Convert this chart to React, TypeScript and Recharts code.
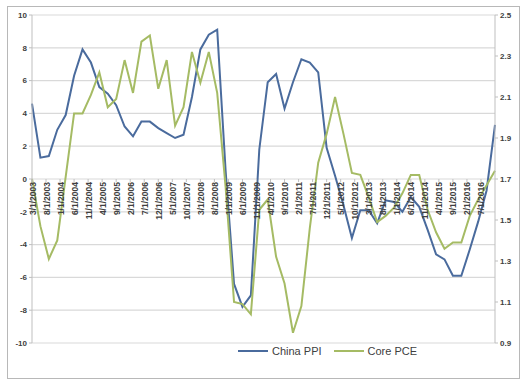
import React from "react";
import {
  LineChart,
  Line,
  XAxis,
  YAxis,
  CartesianGrid,
  ReferenceDot,
  Legend,
} from "recharts";

// Quarterly observation dates
const quarterDates = [
  "3/1/2003", "6/1/2003", "9/1/2003", "12/1/2003",
  "3/1/2004", "6/1/2004", "9/1/2004", "12/1/2004",
  "3/1/2005", "6/1/2005", "9/1/2005", "12/1/2005",
  "3/1/2006", "6/1/2006", "9/1/2006", "12/1/2006",
  "3/1/2007", "6/1/2007", "9/1/2007", "12/1/2007",
  "3/1/2008", "6/1/2008", "9/1/2008", "12/1/2008",
  "3/1/2009", "6/1/2009", "9/1/2009", "12/1/2009",
  "3/1/2010", "6/1/2010", "9/1/2010", "12/1/2010",
  "3/1/2011", "6/1/2011", "9/1/2011", "12/1/2011",
  "3/1/2012", "6/1/2012", "9/1/2012", "12/1/2012",
  "3/1/2013", "6/1/2013", "9/1/2013", "12/1/2013",
  "3/1/2014", "6/1/2014", "9/1/2014", "12/1/2014",
  "3/1/2015", "6/1/2015", "9/1/2015", "12/1/2015",
  "3/1/2016", "6/1/2016", "9/1/2016", "12/1/2016",
];

// China PPI (%, left axis)
const chinaPpi = [
  4.6, 1.3, 1.4, 3.0,
  3.9, 6.3, 7.9, 7.1,
  5.6, 5.2, 4.5, 3.2,
  2.6, 3.5, 3.5, 3.1,
  2.8, 2.5, 2.7, 5.0,
  7.9, 8.8, 9.1, 0.5,
  -6.4, -7.8, -7.1, 1.8,
  5.9, 6.4, 4.3, 5.9,
  7.3, 7.1, 6.5, 1.9,
  0.2, -1.6, -3.6, -1.9,
  -1.9, -2.7, -1.3, -1.4,
  -2.0, -1.1, -1.7, -3.1,
  -4.6, -4.9, -5.9, -5.9,
  -4.3, -2.6, -0.7, 3.3,
];

// US Core PCE (%, right axis)
const corePce = [
  1.70, 1.47, 1.31, 1.40,
  1.71, 2.02, 2.02, 2.11,
  2.22, 2.05, 2.09, 2.28,
  2.12, 2.37, 2.40, 2.14,
  2.28, 1.96, 2.05, 2.32,
  2.17, 2.32, 2.12, 1.66,
  1.10, 1.09, 1.04, 1.55,
  1.60, 1.32, 1.19, 0.95,
  1.08, 1.46, 1.78, 1.92,
  2.10, 1.92, 1.73, 1.72,
  1.61, 1.49, 1.52, 1.56,
  1.63, 1.72, 1.72, 1.55,
  1.44, 1.36, 1.39, 1.39,
  1.52, 1.60, 1.67, 1.74,
];

// Category axis labels (every 5 months)
const tickLabels = [
  "3/1/2003", "8/1/2003", "1/1/2004", "6/1/2004", "11/1/2004", "4/1/2005",
  "9/1/2005", "2/1/2006", "7/1/2006", "12/1/2006", "5/1/2007", "10/1/2007",
  "3/1/2008", "8/1/2008", "1/1/2009", "6/1/2009", "11/1/2009", "4/1/2010",
  "9/1/2010", "2/1/2011", "7/1/2011", "12/1/2011", "5/1/2012", "10/1/2012",
  "3/1/2013", "8/1/2013", "1/1/2014", "6/1/2014", "11/1/2014", "4/1/2015",
  "9/1/2015", "2/1/2016", "7/1/2016",
];

const leftTicks = [-10, -8, -6, -4, -2, 0, 2, 4, 6, 8, 10];
const rightTicks = [0.9, 1.1, 1.3, 1.5, 1.7, 1.9, 2.1, 2.3, 2.5];

const seriesNames = ["China PPI", "Core PCE"];

const monthIndex = (d: string) => {
  const [mo, , yr] = d.split("/").map(Number);
  return (yr - 2003) * 12 + (mo - 3);
};

const data = quarterDates.map((d, i) => ({
  m: monthIndex(d),
  ppi: chinaPpi[i],
  pce: corePce[i],
}));

const lastMonth = monthIndex(quarterDates[quarterDates.length - 1]);

const BLUE = "#4A6B9D";
const GREEN = "#A5BB64";
const TEXT = "#404040";
const FONT = "'Liberation Sans', Arial, sans-serif";

const DateTick = (label: string) => (props: any) => {
  const { cx, cy } = props;
  return (
    <g>
      <line x1={cx} y1={cy} x2={cx} y2={cy + 3} stroke="#BFBFBF" strokeWidth={1} />
      <text
        x={cx + 3.5}
        y={cy + 3}
        transform={`rotate(-90 ${cx + 3.5} ${cy + 3})`}
        textAnchor="end"
        fontSize={8.5}
        fontFamily={FONT}
        fontWeight="bold"
        fill={TEXT}
      >
        {label}
      </text>
    </g>
  );
};

const LegendContent = () => (
  <div style={{ display: "flex", alignItems: "center", fontFamily: FONT, fontSize: 11, color: TEXT }}>
    <svg width={30} height={10}>
      <line x1={0} y1={5} x2={30} y2={5} stroke={BLUE} strokeWidth={2} />
    </svg>
    <span style={{ marginLeft: 4, marginRight: 12 }}>{seriesNames[0]}</span>
    <svg width={30} height={10}>
      <line x1={0} y1={5} x2={30} y2={5} stroke={GREEN} strokeWidth={2} />
    </svg>
    <span style={{ marginLeft: 4 }}>{seriesNames[1]}</span>
  </div>
);

export default function App() {
  return (
    <div style={{ position: "absolute", left: 0, top: 0, width: 527, height: 389, background: "#fff" }}>
      <div
        style={{
          position: "absolute",
          left: 7,
          top: 6,
          width: 511,
          height: 371,
          border: "1px solid #B8B8B8",
        }}
      />
      <div style={{ position: "absolute", left: 0, top: 0 }}>
        <LineChart
          width={527}
          height={389}
          data={data}
          margin={{ top: 15, right: 8, bottom: 46, left: 8 }}
        >
          <CartesianGrid yAxisId="left" vertical={false} stroke="#D9D9D9" strokeWidth={1.2} />
          <XAxis dataKey="m" type="number" domain={[0, lastMonth]} hide />
          <YAxis
            yAxisId="left"
            domain={[-10, 10]}
            ticks={leftTicks}
            width={24}
            interval={0}
            axisLine={{ stroke: "#BFBFBF" }}
            tickLine={{ stroke: "#BFBFBF" }}
            tickSize={3}
            tick={{ fontSize: 8, fill: TEXT, fontFamily: FONT, fontWeight: "bold" }}
          />
          <YAxis
            yAxisId="right"
            orientation="right"
            domain={[0.9, 2.5]}
            ticks={rightTicks}
            width={24}
            interval={0}
            axisLine={{ stroke: "#BFBFBF" }}
            tickLine={{ stroke: "#BFBFBF" }}
            tickSize={3}
            tickFormatter={(v: number) => v.toFixed(1)}
            tick={{ fontSize: 8, fill: TEXT, fontFamily: FONT, fontWeight: "bold" }}
          />
          {tickLabels.map((l) => (
            <ReferenceDot
              key={l}
              yAxisId="left"
              x={monthIndex(l)}
              y={0}
              r={0}
              shape={DateTick(l)}
            />
          ))}
          <Line
            yAxisId="left"
            type="linear"
            dataKey="ppi"
            name={seriesNames[0]}
            stroke={BLUE}
            strokeWidth={2}
            dot={false}
            isAnimationActive={false}
          />
          <Line
            yAxisId="right"
            type="linear"
            dataKey="pce"
            name={seriesNames[1]}
            stroke={GREEN}
            strokeWidth={2}
            dot={false}
            isAnimationActive={false}
          />
          <Legend
            layout="horizontal"
            verticalAlign="middle"
            align="center"
            content={LegendContent}
            wrapperStyle={{ position: "absolute", top: 345, left: 238, width: 200 }}
          />
        </LineChart>
      </div>
    </div>
  );
}
